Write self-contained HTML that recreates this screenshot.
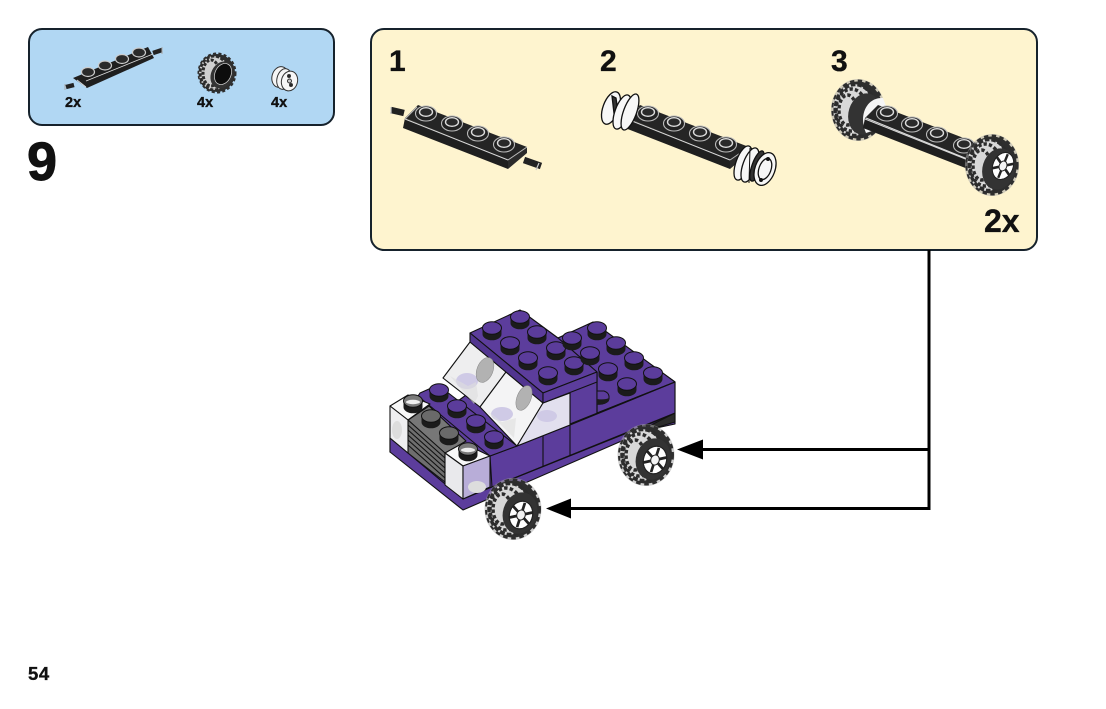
<!DOCTYPE html>
<html><head><meta charset="utf-8"><style>
html,body{margin:0;padding:0;background:#fff}
svg{display:block}
text{font-family:"Liberation Sans",Arial,sans-serif;font-weight:700;fill:#111;stroke:#111;stroke-width:.35px}
</style></head><body>
<svg width="1106" height="709" viewBox="0 0 1106 709" xmlns="http://www.w3.org/2000/svg">
<defs>
<g id="ps"><path d="M-9.500 0v6a9.500 6.300 0 0 0 19 0v-6z" fill="#1b1b1b"/><ellipse rx="9.500" ry="6.300" fill="#5b3c9b" stroke="#111" stroke-width="1"/></g>
<g id="gs"><path d="M-9.500 0v6a9.500 6.300 0 0 0 19 0v-6z" fill="#1b1b1b"/><ellipse rx="9.500" ry="6.300" fill="#6a6a6a" stroke="#111" stroke-width="1"/></g>
<g id="ws"><path d="M-9.500 0v6a9.500 6.300 0 0 0 19 0v-6z" fill="#1b1b1b"/><ellipse rx="9.500" ry="6.300" fill="#7a7a7a" stroke="#111" stroke-width="1"/><ellipse cy="1" rx="7" ry="2.200" fill="#eee"/></g>
<g id="bs"><ellipse cy="1.500" rx="10.500" ry="7.500" fill="#222" stroke="#bbb" stroke-width="1.100"/><ellipse rx="6.500" ry="4.300" fill="#2a2a2a" stroke="#ddd" stroke-width="1.400"/></g>
<g id="platebody">
<path d="M405 118l13-13 109 42-19 13z" fill="#252525"/>
<path d="M405 118l103 42v9l-105-41z" fill="#1f1f1f"/>
<path d="M508 160l19-13v6l-19 16z" fill="#2b2b2b"/>
<path d="M405 119l103 41" stroke="#d8d8d8" stroke-width="1" fill="none"/>
</g>
<g id="plate">
<path d="M391 110l13 3M524 160l17 6" stroke="#222" stroke-width="6.500" fill="none"/>
<path d="M391 107v7M539 163l-3 7" stroke="#ccc" stroke-width="1.200" fill="none"/>
<use href="#platebody"/>
<path d="M508 160l19-13M405 119l12-12" stroke="#bbb" stroke-width="1" fill="none"/>
<use href="#bs" x="426" y="112"/><use href="#bs" x="452" y="122"/><use href="#bs" x="478" y="132"/><use href="#bs" x="504" y="143"/>
</g>
<g id="hubw">
<ellipse rx="13.500" ry="16.500" fill="#fff" stroke="#222" stroke-width="1"/>
<path d="M0-15v30M-12-7l24 14M-12 7l24-14" stroke="#222" stroke-width="3.200"/>
<ellipse rx="5" ry="6" fill="#f3f3f3" stroke="#222" stroke-width="1.200"/>
<ellipse rx="13.500" ry="16.500" fill="none" stroke="#222" stroke-width="1.300"/>
</g>
<g id="tyre">
<ellipse rx="28.500" ry="31" fill="#aaa" opacity=".55"/>
<ellipse rx="26" ry="28.500" fill="#2e2e2e" stroke="#2e2e2e" stroke-width="4" stroke-dasharray="4.500 3.500"/>
<ellipse cx="-5" rx="21" ry="26" fill="#d8d8d8"/>
<ellipse cx="-3" rx="21" ry="25.500" fill="none" stroke="#2c2c2c" stroke-width="3.500" stroke-dasharray="5 2"/>
<ellipse cx="-7" rx="16" ry="21" fill="none" stroke="#2c2c2c" stroke-width="3.500" stroke-dasharray="3.500 2.200"/>
<ellipse cx="-11" rx="9" ry="15" fill="none" stroke="#2c2c2c" stroke-width="3.500" stroke-dasharray="3.500 2.200"/>
<ellipse cx="7" cy="4" rx="17" ry="21" fill="#333" transform="rotate(18 7 4)"/>
</g>
</defs>

<rect x="29" y="29" width="305" height="96" rx="13" fill="#b1d7f3" stroke="#16222c" stroke-width="2"/>
<rect x="371" y="29" width="666" height="221" rx="13" fill="#fef4cf" stroke="#16222c" stroke-width="2"/>

<path d="M929 250V508.500H565M929 449.500H695" fill="none" stroke="#000" stroke-width="3"/>
<path d="M677 449.500l26-10v20zM546 508.500l25-10v20z" fill="#000"/>

<!-- parts list -->
<path d="M66 87l8-2M153 53l9-3" stroke="#222" stroke-width="4.500" fill="none"/>
<path d="M65 84v6M162 47v7" stroke="#aaa" stroke-width="1" fill="none"/>
<path d="M73 78l75-31 6 11-67 30z" fill="#1f1f1f"/>
<path d="M77 80l9 7M86 81l67-27" stroke="#ddd" stroke-width=".8" fill="none"/>
<g fill="#2a2a2a" stroke="#ccc" stroke-width="1.200"><ellipse cx="88" cy="72" rx="6.500" ry="4.500"/><ellipse cx="105" cy="65.500" rx="6.500" ry="4.500"/><ellipse cx="122" cy="59" rx="6.500" ry="4.500"/><ellipse cx="139" cy="52.500" rx="6.500" ry="4.500"/></g>
<g transform="translate(217 73)"><ellipse rx="18" ry="19" fill="#2e2e2e" stroke="#2e2e2e" stroke-width="3" stroke-dasharray="3 2.200"/><ellipse cx="-3" rx="15" ry="17" fill="#d0d0d0"/><ellipse cx="-3" rx="14" ry="17" fill="none" stroke="#2c2c2c" stroke-width="3" stroke-dasharray="3.500 1.500"/><ellipse cx="-6" rx="8" ry="13" fill="none" stroke="#2c2c2c" stroke-width="3" stroke-dasharray="3 1.500"/><ellipse cx="5" cy="2" rx="11" ry="14" fill="#333" transform="rotate(25 5 2)"/><ellipse cx="6" cy="1" rx="8" ry="11" fill="#0d0d0d" stroke="#ddd" stroke-width=".7" transform="rotate(25 6 1)"/></g>
<g transform="translate(285 79)" stroke="#333" stroke-width="1" fill="#f6f6f6"><ellipse cx="-5" cy="-2" rx="8" ry="10.500" transform="rotate(15 -5 -2)"/><ellipse cx="-1" cy="0" rx="7" ry="10.500" transform="rotate(15 -1 0)"/><ellipse cx="4.500" cy="2" rx="8" ry="10" transform="rotate(15 4.500 2)"/><circle cx="4" cy="-3" r="1.500" fill="#222"/><circle cx="6" cy="6" r="1.500" fill="#222"/><circle cx="4.500" cy="2" r="2" fill="#ccc"/></g>
<text x="65" y="107" font-size="14.500">2x</text>
<text x="197" y="107" font-size="14.500">4x</text>
<text x="271" y="107" font-size="14.500">4x</text>
<text x="27" y="180" font-size="54" style="stroke-width:.9px">9</text>

<!-- sub-assembly -->
<text x="389" y="71" font-size="30">1</text>
<text x="600" y="71" font-size="30">2</text>
<text x="831" y="71" font-size="30">3</text>
<text x="984" y="232" font-size="32">2x</text>
<use href="#plate"/>

<!-- step 2 -->
<use href="#plate" x="222"/>
<g stroke="#111" stroke-width="1.300" fill="#f7f7f7">
<ellipse cx="611" cy="108" rx="8" ry="17" transform="rotate(20 611 108)"/>
<path d="M612 96l4 2 3 22-4 2z" fill="#333"/>
<ellipse cx="622" cy="112" rx="7" ry="18" transform="rotate(20 622 112)"/>
<ellipse cx="630" cy="112" rx="6.500" ry="19" transform="rotate(20 630 112)"/>
<ellipse cx="743" cy="163" rx="7" ry="18" transform="rotate(20 743 163)"/>
<ellipse cx="750" cy="165" rx="7" ry="18" transform="rotate(20 750 165)"/>
<ellipse cx="757" cy="166" rx="5" ry="16" transform="rotate(20 757 166)" fill="#333"/>
<ellipse cx="765" cy="169" rx="10" ry="17" transform="rotate(20 765 169)"/>
<ellipse cx="765" cy="169" rx="6" ry="11" transform="rotate(20 765 169)" fill="none"/>
</g>
<circle cx="768" cy="159" r="2" fill="#111"/><circle cx="761" cy="180" r="2" fill="#111"/>
<path d="M750 148l-1 35" stroke="#111" stroke-width="1" fill="none"/>

<!-- step 3 -->
<g transform="translate(858 110) scale(.95 1)"><use href="#tyre"/></g>
<path d="M866 133c-8-18 1-36 17-35l3 8c-8 0-13 10-11 24z" fill="#f6f6f6"/>
<use href="#platebody" x="460"/>
<path d="M866 118l104 42" stroke="#ddd" stroke-width="1" fill="none"/>
<use href="#bs" x="887" y="112"/><use href="#bs" x="912" y="123"/><use href="#bs" x="937" y="133"/><use href="#bs" x="964" y="144"/>
<g transform="translate(992 165) scale(.95 1)"><use href="#tyre"/></g>
<g transform="translate(1003 166) rotate(22) scale(.75 .85)"><use href="#hubw"/></g>

<!-- car -->
<g stroke="#111" stroke-width="1.100" stroke-linejoin="round">
<path d="M390 438l73 61 29-12 158-63 25-11v-31l-82-59-35 15-88 54-80 60z" fill="#5c3d9c"/>
<path d="M390 438v14l73 58 154-67 30-13 28-6v-11l-28 12-155 62-29 12z" fill="#5c3d9c"/>
<path d="M647 427l28-14v9l-30 9z" fill="#2b2b2b"/>
<path d="M558 338l35-16 82 60-78 31v-41z" fill="#5c3d9c"/>
<path d="M490 456l27-10 53-21 105-43v31l-183 74z" fill="#5c3d9c"/>
<path d="M543 436v31M570 425v30M570 393v32M597 372v41M570 424l105-42" fill="none"/>
<path d="M420 393l18-8 79 61-27 10-72-60z" fill="#5c3d9c"/>
<!-- windows -->
<path d="M443 378l27-36 36 30-26 35z" fill="#eeeeef"/>
<path d="M480 407l26-35 37 31-26 43z" fill="#f4f4f5"/>
<path d="M517 446l26-43 27-10v32l-53 21z" fill="#e2e0ee"/>
<!-- roof -->
<path d="M470 333l50-23 38 28 39 34-54 21z" fill="#5c3d9c"/>
<path d="M470 333l73 60v10l-73-61z" fill="#51358f"/>
<path d="M543 393l54-21v10l-54 21z" fill="#5c3d9c"/>
<!-- front -->
<path d="M408 420l21-14 37 35-21 13z" fill="#777"/>
<path d="M408 420l37 33v29l-37-29z" fill="#6e6e6e"/>
<path d="M408 425l37 33M408 430l37 33M408 435l37 33M408 440l37 33M408 445l37 33" fill="none" stroke-width="1.100"/>
<path d="M390 406l18-11 22 9-22 16z" fill="#f8f8f8"/>
<path d="M390 406l18 14v33l-18-15z" fill="#eeeef0"/>
<path d="M445 453l18-10 27 13-27 10z" fill="#f8f8f8"/>
<path d="M445 453l18 13v33l-18-14z" fill="#e9e9ec"/>
<path d="M463 466l27-10v31l-27 12z" fill="#b8add8"/>
</g>
<g fill="#cfcae6"><ellipse cx="467" cy="381" rx="11" ry="8"/><ellipse cx="502" cy="414" rx="11" ry="7"/><ellipse cx="547" cy="416" rx="10" ry="6"/></g>
<g fill="#ddd"><path d="M450 376l18 10 8-4 2 14-4 8zM486 410l16 12 14-4-2 20z" opacity=".6"/><ellipse cx="477" cy="487" rx="9" ry="6"/><ellipse cx="397" cy="430" rx="5" ry="9"/></g>
<g fill="#b2b2b2" stroke="#888" stroke-width=".5"><ellipse cx="485" cy="370" rx="8" ry="13" transform="rotate(22 485 370)"/><ellipse cx="524" cy="398" rx="7" ry="13" transform="rotate(22 524 398)"/></g>
<use href="#ps" x="520" y="317"/><use href="#ps" x="492" y="328"/><use href="#ps" x="537" y="332"/><use href="#ps" x="510" y="343"/><use href="#ps" x="556" y="348"/><use href="#ps" x="528" y="358"/><use href="#ps" x="574" y="363"/><use href="#ps" x="548" y="373"/>
<use href="#ps" x="597" y="328"/><use href="#ps" x="616" y="343"/><use href="#ps" x="634" y="358"/><use href="#ps" x="653" y="373"/><use href="#ps" x="608" y="369"/><use href="#ps" x="627" y="384"/>
<use href="#ps" x="572" y="338"/><use href="#ps" x="590" y="353"/>
<path d="M597 391h7a9.500 6.300 0 0 1 5 5v3a9.500 6.300 0 0 1-12 5z" fill="#5b3c9b" stroke="#111"/><path d="M597 399c6 1 10 0 12-1v3c-3 3-8 4-12 3z" fill="#1b1b1b"/>
<use href="#ps" x="439" y="390"/><use href="#ps" x="457" y="406"/><use href="#ps" x="476" y="421"/><use href="#ps" x="494" y="437"/>
<use href="#gs" x="431" y="416"/><use href="#gs" x="449" y="433"/>
<use href="#ws" x="413" y="401"/><use href="#ws" x="468" y="449"/>
<g transform="translate(646 455)"><use href="#tyre"/></g>
<g transform="translate(655 460) rotate(18) scale(.85)"><use href="#hubw"/></g>
<g transform="translate(513 509)"><use href="#tyre"/></g>
<g transform="translate(521 515) rotate(18) scale(.85)"><use href="#hubw"/></g>

<text x="28" y="680" font-size="18.500" letter-spacing=".6">54</text>
</svg>
</body></html>
